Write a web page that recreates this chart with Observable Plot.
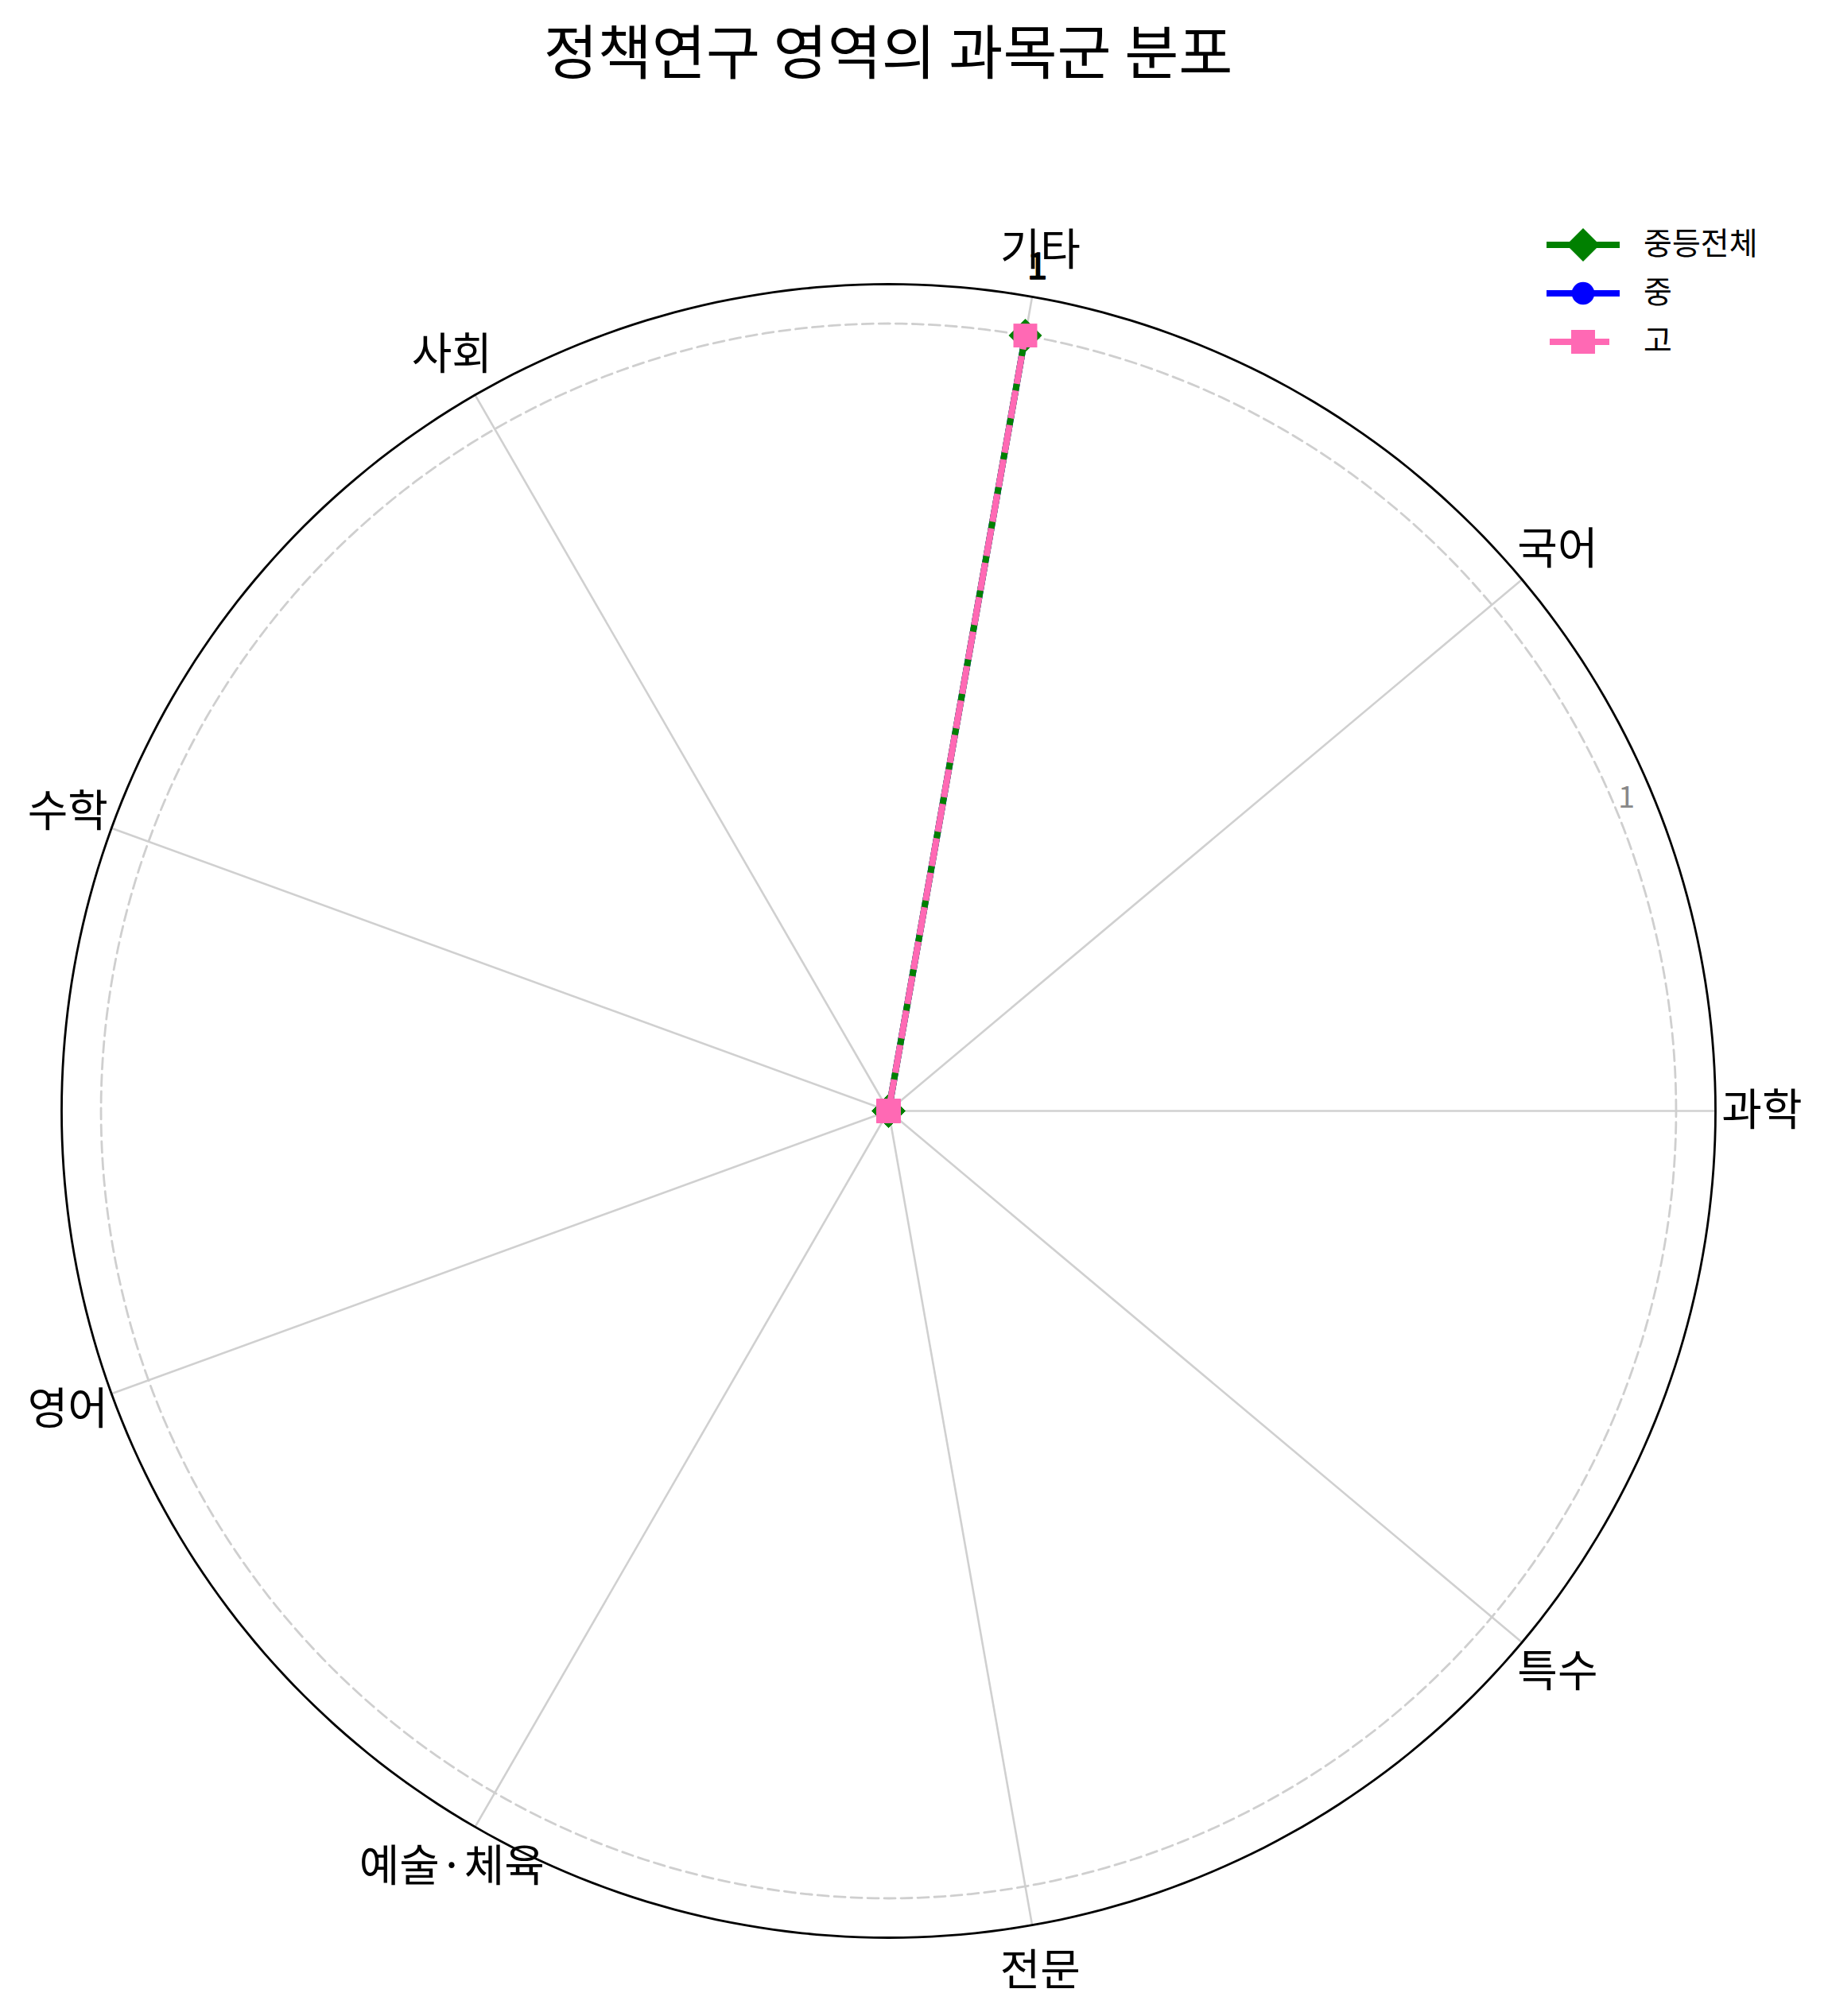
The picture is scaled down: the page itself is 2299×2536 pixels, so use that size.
<!DOCTYPE html>
<html><head><meta charset="utf-8">
<script src="https://cdn.jsdelivr.net/npm/d3@7"></script>
<script src="https://cdn.jsdelivr.net/npm/@observablehq/plot@0.6"></script>
<style>
body{margin:0;background:#fff;font-family:"Noto Sans CJK KR",sans-serif;}
#wrap{position:relative;width:2299px;height:2536px;overflow:hidden;}
#title{height:130px;line-height:122px;width:2234px;text-align:center;font-size:74px;color:#000;white-space:nowrap;}
#legend{position:absolute;left:1930px;top:270px;}
</style></head><body>
<div id="wrap"><div id="title"></div><div id="chart"></div><svg id="legend" width="340" height="200"></svg></div>
<script>
const titleText = "정책연구 영역의 과목군 분포";
const categories = ["과학","국어","기타","사회","수학","영어","예술·체육","전문","특수"];
const seriesNames = ["중등전체","중","고"];
const seriesColors = ["#008000","#0000ff","#ff69b4"];
const seriesSymbols = ["diamond2","circle","square"];
const valuesTotal  = [0,0,1,0,0,0,0,0,0];
const valuesMiddle = [0,0,1,0,0,0,0,0,0];
const valuesHigh   = [0,0,1,0,0,0,0,0,0];
const radialTicks = [1];
const rMax = 1.05;

const seriesValues = [valuesTotal, valuesMiddle, valuesHigh];
const drawOrder = [1, 0, 2];
const markerR = {diamond2: 18.9, circle: 14.3, square: 16.9};
const dashPattern = [35.5, 8.5];

document.getElementById("title").textContent = titleText;

const W = 2299, H = 2406, cx = 1117, cy = 1267, R = 1040;
const n = categories.length;
const ang = i => (i * 360 / n) * Math.PI / 180;
const pt = (r, i) => ({x: r * Math.cos(ang(i)), y: r * Math.sin(ang(i))});

// dash offset so outbound and return passes share gaps
const pxPerUnit = R / rMax;
const P = dashPattern[0] + dashPattern[1];
function dashOffset(vals) {
  const L = d3.max(vals) * pxPerUnit;
  let o = ((dashPattern[0] + P) / 2 - L) % (P / 2);
  if (o > P / 4) o -= P / 2;
  if (o < -P / 4) o += P / 2;
  return o;
}

const circleAngles = d3.range(0, 361, 1).map(a => a * Math.PI / 180);
const tickRings = radialTicks.flatMap(t => circleAngles.map(a => ({t, x: t * Math.cos(a), y: t * Math.sin(a)})));

const marks = [
  Plot.link(categories, {
    x1: 0, y1: 0,
    x2: (d, i) => pt(rMax, i).x, y2: (d, i) => pt(rMax, i).y,
    stroke: "#d0d0d0", strokeWidth: 2.6
  }),
  Plot.line(tickRings, {x: "x", y: "y", z: "t", stroke: "#cfcfcf", strokeWidth: 2.8, strokeDasharray: "14,7", curve: "linear"}),
  Plot.line(circleAngles, {x: a => rMax * Math.cos(a), y: a => rMax * Math.sin(a), stroke: "black", strokeWidth: 2.8, curve: "linear"}),
  Plot.text(radialTicks, {
    x: d => d * 1.018 * Math.cos(23 * Math.PI / 180), y: d => d * 1.018 * Math.sin(23 * Math.PI / 180),
    text: d => String(d), fontSize: 38, fill: "#888", textAnchor: "middle", lineAnchor: "middle"
  }),
  Plot.text(categories, {
    x: (d, i) => pt(1.109, i).x, y: (d, i) => pt(1.109, i).y,
    text: d => d, fontSize: 55, fill: "black", textAnchor: "middle", lineAnchor: "middle"
  })
];

for (const si of drawOrder) {
  const vals = seriesValues[si];
  const data = vals.map((v, i) => ({v, i, ...pt(v, i)}));
  const dashed = si === 2;
  marks.push(Plot.line(data, {
    x: "x", y: "y", curve: "linear-closed",
    stroke: seriesColors[si], strokeWidth: 8,
    strokeLinecap: "butt", strokeLinejoin: "round",
    strokeDasharray: dashed ? dashPattern.join(",") : undefined,
    strokeDashoffset: dashed ? dashOffset(vals) : undefined
  }));
  marks.push(Plot.dot(data, {
    x: "x", y: "y", symbol: seriesSymbols[si], r: markerR[seriesSymbols[si]],
    fill: seriesColors[si], stroke: "none"
  }));
}
// value annotations (identical positions across series are drawn once)
const annMap = new Map();
seriesValues.forEach(vals => vals.forEach((v, i) => { if (v > 0) annMap.set(`${i}|${v}`, {v, i}); }));
const annotations = Array.from(annMap.values());
marks.push(Plot.text(annotations, {
  x: d => pt(d.v + 0.088, d.i).x, y: d => pt(d.v + 0.088, d.i).y,
  text: d => String(d.v), fontSize: 46, fill: "black", stroke: "black", strokeWidth: 1.4,
  textAnchor: "middle", lineAnchor: "middle"
}));

const chart = Plot.plot({
  width: W, height: H,
  margin: 0,
  x: {domain: [-rMax, rMax], range: [cx - R, cx + R], axis: null},
  y: {domain: [-rMax, rMax], range: [cy + R, cy - R], axis: null},
  style: {fontFamily: '"Noto Sans CJK KR", sans-serif', background: "white", overflow: "visible"},
  marks
});
document.getElementById("chart").appendChild(chart);

// legend
const lg = d3.select("#legend");
const rowY = [38, 99, 160];
seriesNames.forEach((name, si) => {
  const g = lg.append("g").attr("transform", `translate(0,${rowY[si]})`);
  const dashed = si === 2;
  g.append("line").attr("x1", dashed ? 19 : 15).attr("x2", dashed ? 94 : 107)
    .attr("y1", 0).attr("y2", 0).attr("stroke", seriesColors[si]).attr("stroke-width", 8);
  const sym = {diamond2: d3.symbolDiamond2, circle: d3.symbolCircle, square: d3.symbolSquare}[seriesSymbols[si]];
  const r = markerR[seriesSymbols[si]];
  g.append("path").attr("transform", "translate(61,0)")
    .attr("d", d3.symbol(sym, Math.PI * r * r)()).attr("fill", seriesColors[si]);
  g.append("text").attr("x", 137).attr("y", 0).attr("dy", "0.32em")
    .attr("font-size", 39).attr("font-family", '"Noto Sans CJK KR", sans-serif')
    .attr("fill", "black").text(name);
});
</script>
</body></html>
